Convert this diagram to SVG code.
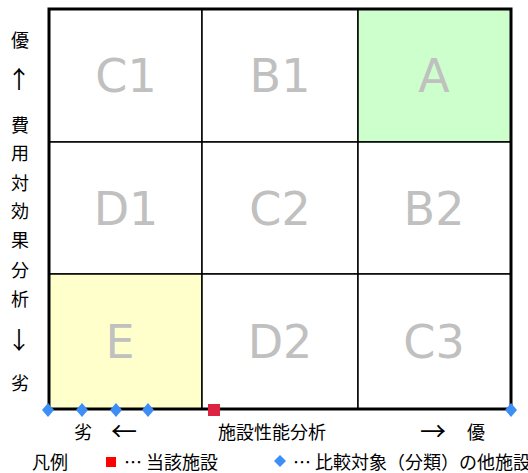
<svg xmlns="http://www.w3.org/2000/svg" width="528" height="473" viewBox="0 0 528 473">
<style>
.cell{stroke:#000;stroke-width:1.5}
.lbl{font-family:"DejaVu Sans",Verdana,sans-serif;font-size:46px;fill:#c0c0c0;text-anchor:middle}
.jp{font-family:"Noto Sans CJK JP",sans-serif;font-size:18px;fill:#000;text-anchor:middle}
.jpl{font-family:"Noto Sans CJK JP",sans-serif;font-size:18px;fill:#000}
.arr{font-family:"Noto Sans CJK JP",sans-serif;font-size:26px;fill:#000;text-anchor:middle}
.varr{font-family:"Noto Sans CJK JP",sans-serif;font-size:24px;fill:#000;text-anchor:middle}
.dia{fill:#3d8ef5}
</style>
<rect width="528" height="473" fill="#fff"/>
<g id="grid">
<g id="C1"><rect class="cell" x="49" y="9" width="153" height="133" fill="#fff"/><text class="lbl" x="126" y="92">C1</text></g>
<g id="B1"><rect class="cell" x="202" y="9" width="156" height="133" fill="#fff"/><text class="lbl" x="280" y="92">B1</text></g>
<g id="A"><rect class="cell" x="358" y="9" width="153" height="133" fill="#ccffcc"/><text class="lbl" x="434" y="92">A</text></g>
<g id="D1"><rect class="cell" x="49" y="142" width="153" height="132" fill="#fff"/><text class="lbl" x="126" y="225">D1</text></g>
<g id="C2"><rect class="cell" x="202" y="142" width="156" height="132" fill="#fff"/><text class="lbl" x="280" y="225">C2</text></g>
<g id="B2"><rect class="cell" x="358" y="142" width="153" height="132" fill="#fff"/><text class="lbl" x="434" y="225">B2</text></g>
<g id="E"><rect class="cell" x="49" y="274" width="153" height="135" fill="#ffffcc"/><text class="lbl" x="120" y="358">E</text></g>
<g id="D2"><rect class="cell" x="202" y="274" width="156" height="135" fill="#fff"/><text class="lbl" x="280" y="358">D2</text></g>
<g id="C3"><rect class="cell" x="358" y="274" width="153" height="135" fill="#fff"/><text class="lbl" x="434" y="358">C3</text></g>
<rect x="49" y="9" width="462" height="400" fill="none" stroke="#000" stroke-width="3"/>
</g>
<g id="yaxis">
<text class="jp" x="20" y="47">優</text>
<text class="varr" x="19" y="88">↑</text>
<text class="jp" x="20" y="132">費</text>
<text class="jp" x="20" y="160">用</text>
<text class="jp" x="20" y="190">対</text>
<text class="jp" x="20" y="218">効</text>
<text class="jp" x="20" y="247">果</text>
<text class="jp" x="20" y="277">分</text>
<text class="jp" x="20" y="306">析</text>
<text class="varr" x="19" y="349">↓</text>
<text class="jp" x="20" y="390">劣</text>
</g>
<g id="xaxis">
<text class="jp" x="83" y="439">劣</text>
<text class="arr" x="124" y="441">←</text>
<text class="jp" x="272" y="439">施設性能分析</text>
<text class="arr" x="433" y="441">→</text>
<text class="jp" x="476" y="439">優</text>
</g>
<g id="points">
<path class="dia" d="M48,403 l6,7 l-6,7 l-6,-7z"/>
<path class="dia" d="M82,403 l6,7 l-6,7 l-6,-7z"/>
<path class="dia" d="M116,403 l6,7 l-6,7 l-6,-7z"/>
<path class="dia" d="M148,403 l6,7 l-6,7 l-6,-7z"/>
<path class="dia" d="M511,403 l6,7 l-6,7 l-6,-7z"/>
<rect x="208" y="404" width="12" height="12" fill="#dc2340"/>
</g>
<g id="legend">
<text class="jpl" x="32" y="469">凡例</text>
<rect x="106" y="457" width="10" height="10" fill="#ff0000"/>
<text class="jpl" x="124" y="469">… 当該施設</text>
<path class="dia" d="M280,455 l6,6 l-6,6 l-6,-6z"/>
<text class="jpl" x="293" y="469">… 比較対象（分類）の他施設</text>
</g>
</svg>
